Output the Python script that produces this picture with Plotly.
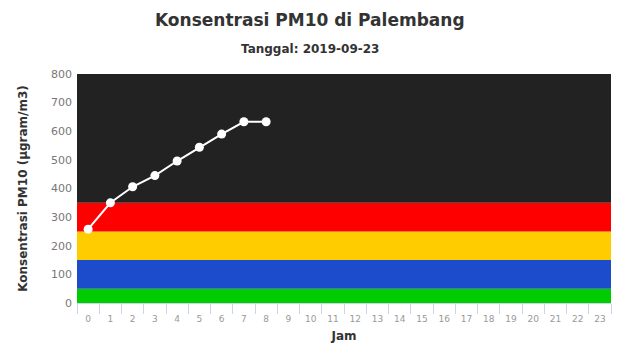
import plotly.graph_objects as go

hours = list(range(24))
hour_labels = [str(h) for h in hours]
obs_hours = [0, 1, 2, 3, 4, 5, 6, 7, 8]
pm10 = [258, 350, 406, 445, 496, 544, 590, 633, 633]

band_lo = [0, 50, 150, 250, 350]
band_hi = [50, 150, 250, 350, 800]
band_colors = ["#00cc00", "#1c4ccc", "#ffcc00", "#ff0000", "#222222"]

fig = go.Figure()
fig.add_trace(go.Scatter(
    x=obs_hours, y=pm10, mode="lines+markers",
    line=dict(color="white", width=2),
    marker=dict(color="white", size=9),
    showlegend=False, hoverinfo="x+y"))

shapes = []
for lo, hi, c in zip(band_lo, band_hi, band_colors):
    shapes.append(dict(type="rect", xref="x domain", yref="y", x0=0, x1=1,
                       y0=lo, y1=hi, fillcolor=c, line=dict(width=0),
                       layer="below"))

fig.update_layout(
    width=620, height=349,
    margin=dict(l=77, r=9, t=74, b=46),
    paper_bgcolor="white", plot_bgcolor="white",
    font=dict(family="DejaVu Sans", color="#666666"),
    shapes=shapes,
    annotations=[
        dict(text="<b>Konsentrasi PM10 di Palembang</b>", xref="paper", yref="paper",
             x=0.5, y=1, xanchor="center", yanchor="bottom", yshift=42,
             showarrow=False, font=dict(size=17, color="#333333"), xshift=-34),
        dict(text="<b>Tanggal: 2019-09-23</b>", xref="paper", yref="paper",
             x=0.5, y=1, xanchor="center", yanchor="bottom", yshift=16,
             showarrow=False, font=dict(size=12, color="#333333"), xshift=-34),
    ],
    xaxis=dict(
        range=[-0.5, 23.5], tickmode="array", tickvals=hours, ticktext=hour_labels,
        ticks="", showgrid=False, zeroline=False, showline=True,
        linecolor="#ccd6eb", linewidth=1, ticklabelstandoff=7,
        tickfont=dict(size=9, color="#999999"), automargin=False,
        minor=dict(tickvals=[h - 0.5 for h in hours] + [23.5], ticks="outside",
                   ticklen=10, tickcolor="#ccd6eb", showgrid=False),
        title=dict(text="<b>Jam</b>", font=dict(size=12, color="#333333"), standoff=8),
        fixedrange=True),
    yaxis=dict(
        range=[0, 800], tickvals=[0, 100, 200, 300, 400, 500, 600, 700, 800],
        showgrid=False, zeroline=False, ticks="", ticklabelstandoff=4,
        tickfont=dict(size=11, color="#777777"), automargin=False,
        title=dict(text="<b>Konsentrasi PM10 (µgram/m3)</b>",
                   font=dict(size=12, color="#333333"), standoff=20),
        fixedrange=True),
)

fig.write_html("out.html")
